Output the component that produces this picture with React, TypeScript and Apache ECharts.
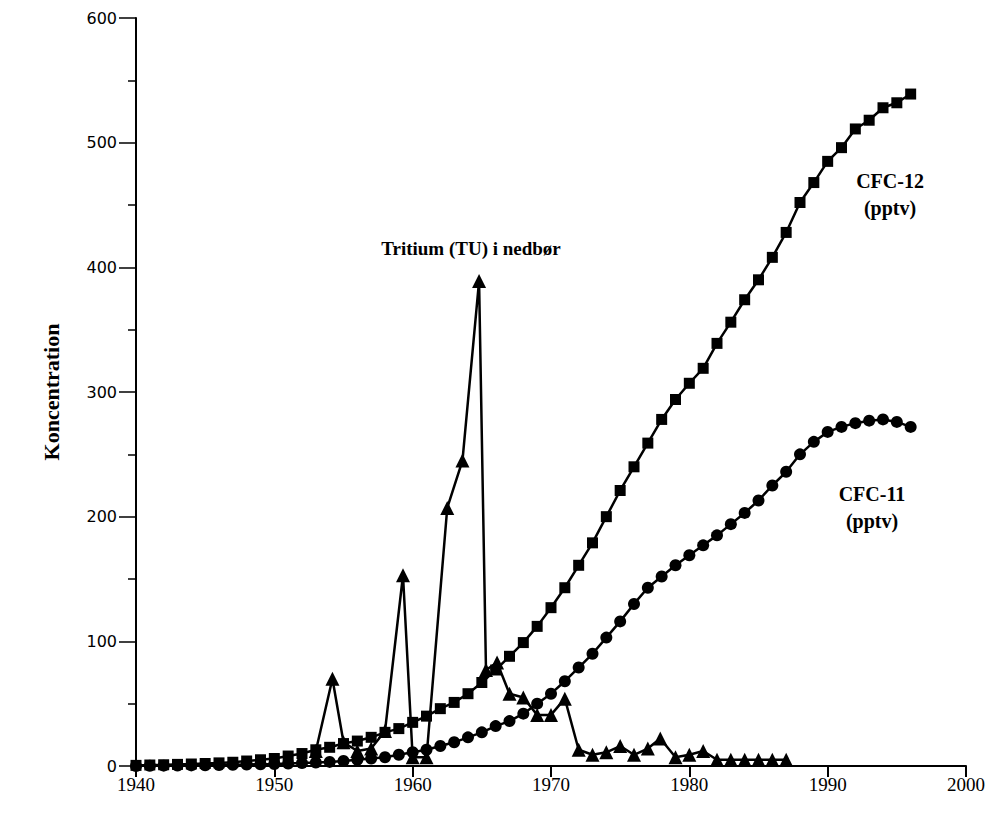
import React, { useEffect, useRef } from "react";
import * as echarts from "echarts";

const years: number[] = [];
for (let y = 1940; y <= 1996; y++) years.push(y);

const cfc12: number[] = [
  0.5, 0.8, 1, 1.3, 1.6, 2, 2.5, 3, 4, 5,
  6, 8, 10, 13, 15, 18, 20, 23, 27, 30,
  35, 40, 46, 51, 58, 67, 77, 88, 99, 112,
  127, 143, 161, 179, 200, 221, 240, 259, 278, 294,
  307, 319, 339, 356, 374, 390, 408, 428, 452, 468,
  485, 496, 511, 518, 528, 532, 539,
];

const cfc11: number[] = [
  0, 0.2, 0.3, 0.4, 0.5, 0.6, 0.8, 1, 1.2, 1.4,
  1.6, 2, 2.4, 2.8, 3.3, 4, 5, 6, 7, 9,
  11, 13, 16, 19, 23, 27, 32, 36, 42, 50,
  58, 68, 79, 90, 103, 116, 130, 143, 152, 161,
  169, 177, 185, 194, 203, 213, 225, 236, 250, 260,
  268, 272, 275, 277, 278, 276, 272,
];

const tritiumYears: number[] = [
  1953, 1954.2, 1955, 1956, 1957, 1958, 1959.3, 1960, 1961, 1962.5,
  1963.6, 1964.8, 1965.3, 1966.1, 1967, 1968, 1969, 1970, 1971, 1972,
  1973, 1974, 1975, 1976, 1977, 1977.9, 1979, 1980, 1981, 1982,
  1983, 1984, 1985, 1986, 1987,
];
const tritium: number[] = [
  12, 70, 19, 12, 14, 28, 153, 7, 7, 207,
  245, 389, 77, 83, 58, 55, 41, 41, 54, 13,
  9, 11, 16, 9, 14, 22, 7, 9, 12, 5,
  5, 5, 5, 5, 5,
];

const xTicks = [1940, 2000, 10];
const yTicks = [0, 600, 100];

export default function App() {
  const ref = useRef<HTMLDivElement>(null);
  useEffect(() => {
    if (!ref.current) return;
    const chart = echarts.init(ref.current, undefined, { renderer: "svg" });
    const black = "#000";
    const lineStyle = { color: black, width: 2.5 };
    chart.setOption({
      animation: false,
      backgroundColor: "#fff",
      grid: { left: 136, right: 27, top: 18, bottom: 48, containLabel: false },
      xAxis: {
        type: "value",
        min: xTicks[0],
        max: xTicks[1],
        interval: xTicks[2],
        axisLine: { show: true, onZero: false, lineStyle: { color: black, width: 2 } },
        axisTick: { show: true, inside: false, length: 11, lineStyle: { color: black, width: 2 } },
        axisLabel: {
          color: black,
          fontFamily: "Liberation Serif",
          fontSize: 19,
          margin: 9,
          formatter: (v: number) => String(v),
        },
        splitLine: { show: false },
      },
      yAxis: {
        type: "value",
        min: yTicks[0],
        max: yTicks[1],
        interval: yTicks[2],
        name: "Koncentration",
        nameLocation: "middle",
        nameRotate: 90,
        nameGap: 74,
        nameTextStyle: {
          color: black,
          fontFamily: "Liberation Serif",
          fontWeight: "bold",
          fontSize: 22,
        },
        axisLine: { show: true, lineStyle: { color: black, width: 2 } },
        axisTick: { show: true, length: 17, lineStyle: { color: black, width: 1.5 } },
        minorTick: { show: true, splitNumber: 2, length: 8, lineStyle: { color: black, width: 1.5 } },
        axisLabel: {
          color: black,
          fontFamily: "DejaVu Sans",
          fontSize: 16,
          margin: 19,
          formatter: (v: number) => String(v),
        },
        splitLine: { show: false },
        minorSplitLine: { show: false },
      },
      series: [
        {
          name: "CFC-12",
          type: "line",
          data: years.map((y, i) => [y, cfc12[i]]),
          symbol: "rect",
          symbolSize: 11,
          itemStyle: { color: black },
          lineStyle,
          z: 3,
        },
        {
          name: "CFC-11",
          type: "line",
          data: years.map((y, i) => [y, cfc11[i]]),
          symbol: "circle",
          symbolSize: 12,
          itemStyle: { color: black },
          lineStyle,
          z: 3,
        },
        {
          name: "Tritium",
          type: "line",
          data: tritiumYears.map((y, i) => [y, tritium[i]]),
          symbol: "triangle",
          symbolSize: 14,
          itemStyle: { color: black },
          lineStyle,
          z: 4,
        },
      ],
      graphic: [
        {
          type: "text",
          x: 471,
          y: 248,
          style: {
            text: "Tritium (TU) i nedbør",
            font: "bold 19px 'Liberation Serif'",
            fill: black,
            align: "center",
            verticalAlign: "middle",
          },
        },
        {
          type: "text",
          x: 890,
          y: 194,
          style: {
            text: "CFC-12\n(pptv)",
            font: "bold 20px 'Liberation Serif'",
            lineHeight: 27,
            fill: black,
            align: "center",
            verticalAlign: "middle",
          },
        },
        {
          type: "text",
          x: 872,
          y: 507,
          style: {
            text: "CFC-11\n(pptv)",
            font: "bold 20px 'Liberation Serif'",
            lineHeight: 27,
            fill: black,
            align: "center",
            verticalAlign: "middle",
          },
        },
      ],
    });
    return () => chart.dispose();
  }, []);
  return <div ref={ref} style={{ width: 993, height: 814, margin: -8 }} />;
}
